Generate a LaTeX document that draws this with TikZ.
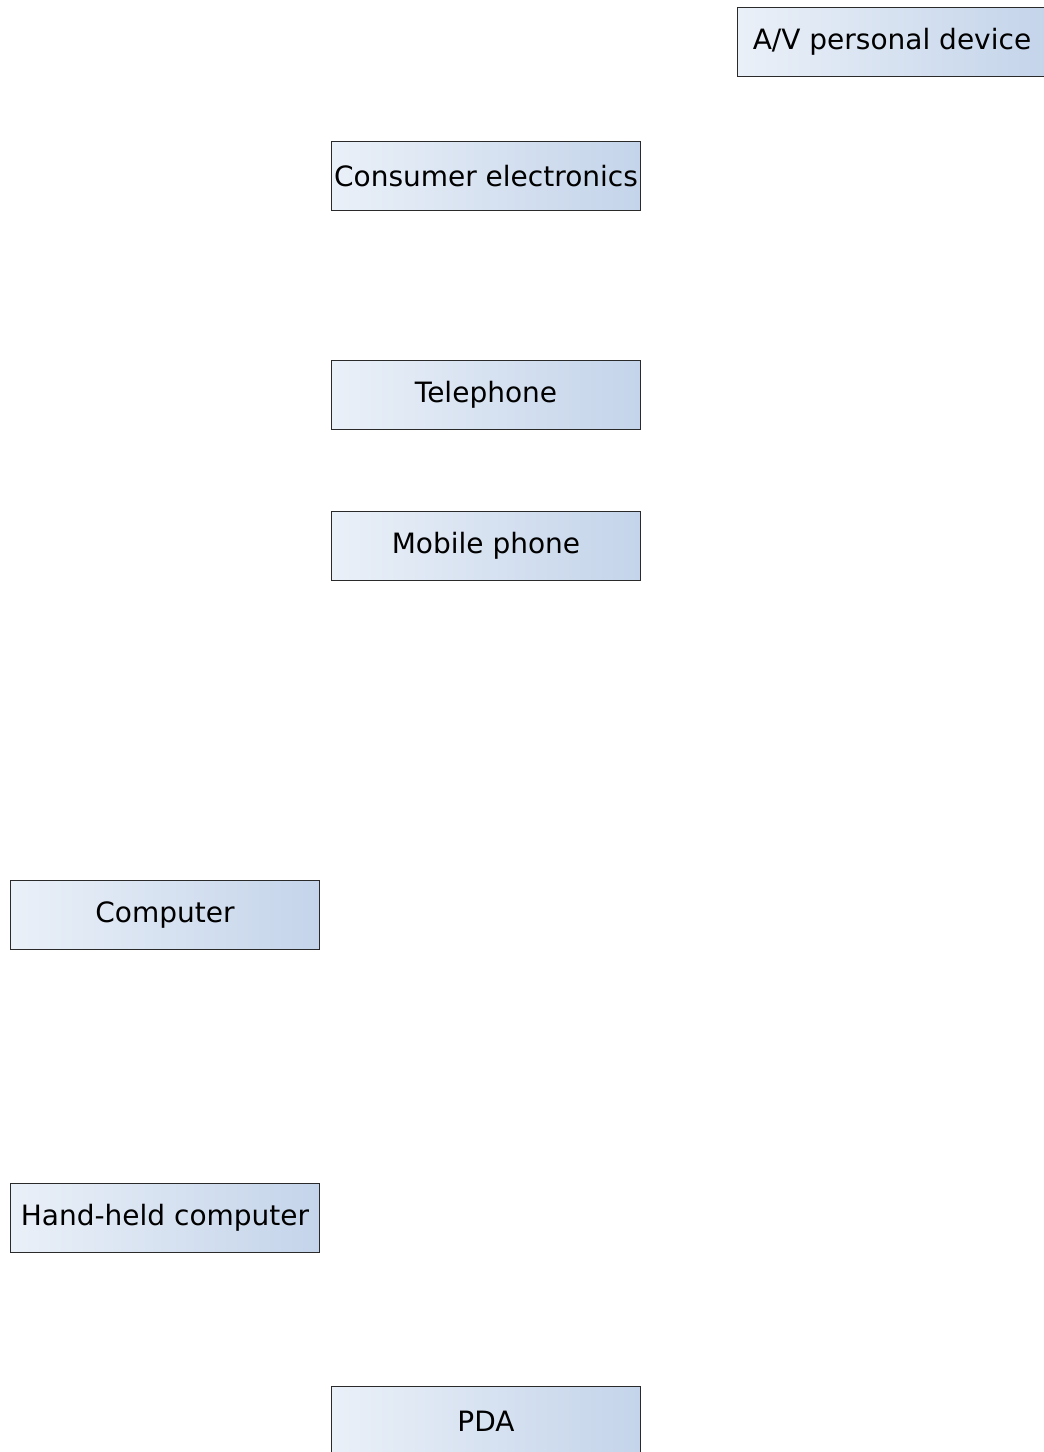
\documentclass[tikz,border=0pt]{standalone}
\usepackage{fontspec}
\setmainfont{DejaVu Sans}
\definecolor{boxleft}{HTML}{EAF0F8}
\definecolor{boxright}{HTML}{C4D4EA}
\definecolor{boxline}{HTML}{2A2A2A}
\newcommand{\devlabel}[1]{\raisebox{-1.5pt}{#1}}
\begin{document}
\begin{tikzpicture}[x=1pt,y=-1pt,
  device/.style={rectangle, draw=boxline, line width=1pt,
    left color=boxleft, right color=boxright,
    minimum width=309pt, minimum height=69pt, inner sep=0pt,
    font=\fontsize{28}{30}\selectfont, text=black, anchor=north west}]
  \useasboundingbox (0,0) rectangle (1044,1452);
  \begin{scope}
    \clip (0,0) rectangle (1044,1452);
    \node[device] (av)     at (737,7)    {\devlabel{A/V personal device}};
    \node[device] (ce)     at (331,141)  {\devlabel{Consumer electronics}};
    \node[device] (tel)    at (331,359.5){\devlabel{Telephone}};
    \node[device] (mob)    at (331,510.5){\devlabel{Mobile phone}};
    \node[device] (comp)   at (10,880)   {\devlabel{Computer}};
    \node[device] (hand)   at (10,1183)  {\devlabel{Hand-held computer}};
    \node[device] (pda)    at (331,1386) {\devlabel{PDA}};
  \end{scope}
\end{tikzpicture}
\end{document}
